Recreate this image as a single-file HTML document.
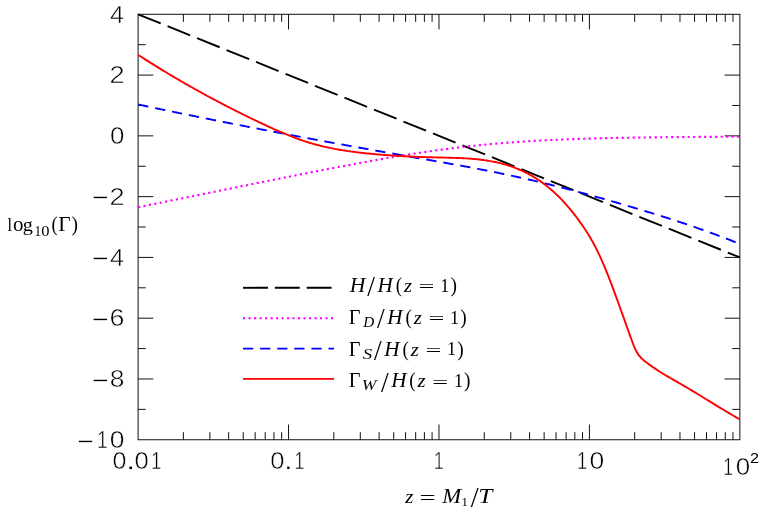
<!DOCTYPE html>
<html><head><meta charset="utf-8"><title>Rates</title>
<style>html,body{margin:0;padding:0;background:#fff;}body{width:763px;height:512px;overflow:hidden;font-family:"Liberation Sans",sans-serif;}svg{display:block;}.s{font-family:"Liberation Sans",sans-serif;fill:#000;}.r{font-family:"Liberation Serif",serif;fill:#000;}.i{font-family:"Liberation Serif",serif;font-style:italic;fill:#000;}</style></head><body>
<svg width="763" height="512" viewBox="0 0 763 512">
<defs><filter id="id" x="0" y="0" width="763" height="512" filterUnits="userSpaceOnUse" color-interpolation-filters="sRGB"><feOffset dx="0" dy="0"/></filter><filter id="bl" x="0" y="0" width="763" height="512" filterUnits="userSpaceOnUse" color-interpolation-filters="sRGB"><feGaussianBlur stdDeviation="0.38"/></filter><filter id="bf" x="0" y="0" width="763" height="512" filterUnits="userSpaceOnUse" color-interpolation-filters="sRGB"><feGaussianBlur stdDeviation="0.6"/></filter></defs>
<rect x="0" y="0" width="763" height="512" fill="#fff"/>
<g filter="url(#bf)" fill="none" stroke="#111" stroke-width="1.0">
<rect x="138.1" y="14.3" width="601.75" height="425.45"/>
<path d="M183.39 439.75 v-7.6M183.39 14.3 v7.6M209.88 439.75 v-7.6M209.88 14.3 v7.6M228.67 439.75 v-7.6M228.67 14.3 v7.6M243.25 439.75 v-7.6M243.25 14.3 v7.6M255.16 439.75 v-7.6M255.16 14.3 v7.6M265.23 439.75 v-7.6M265.23 14.3 v7.6M273.96 439.75 v-7.6M273.96 14.3 v7.6M281.65 439.75 v-7.6M281.65 14.3 v7.6M288.54 439.75 v-15.2M288.54 14.3 v15.2M333.82 439.75 v-7.6M333.82 14.3 v7.6M360.31 439.75 v-7.6M360.31 14.3 v7.6M379.11 439.75 v-7.6M379.11 14.3 v7.6M393.69 439.75 v-7.6M393.69 14.3 v7.6M405.6 439.75 v-7.6M405.6 14.3 v7.6M415.67 439.75 v-7.6M415.67 14.3 v7.6M424.4 439.75 v-7.6M424.4 14.3 v7.6M432.09 439.75 v-7.6M432.09 14.3 v7.6M438.98 439.75 v-15.2M438.98 14.3 v15.2M484.26 439.75 v-7.6M484.26 14.3 v7.6M510.75 439.75 v-7.6M510.75 14.3 v7.6M529.55 439.75 v-7.6M529.55 14.3 v7.6M544.13 439.75 v-7.6M544.13 14.3 v7.6M556.04 439.75 v-7.6M556.04 14.3 v7.6M566.11 439.75 v-7.6M566.11 14.3 v7.6M574.83 439.75 v-7.6M574.83 14.3 v7.6M582.53 439.75 v-7.6M582.53 14.3 v7.6M589.41 439.75 v-15.2M589.41 14.3 v15.2M634.7 439.75 v-7.6M634.7 14.3 v7.6M661.19 439.75 v-7.6M661.19 14.3 v7.6M679.98 439.75 v-7.6M679.98 14.3 v7.6M694.56 439.75 v-7.6M694.56 14.3 v7.6M706.48 439.75 v-7.6M706.48 14.3 v7.6M716.55 439.75 v-7.6M716.55 14.3 v7.6M725.27 439.75 v-7.6M725.27 14.3 v7.6M732.97 439.75 v-7.6M732.97 14.3 v7.6M138.1 44.69 h7.6M739.85 44.69 h-7.6M138.1 75.08 h15.2M739.85 75.08 h-15.2M138.1 105.47 h7.6M739.85 105.47 h-7.6M138.1 135.86 h15.2M739.85 135.86 h-15.2M138.1 166.25 h7.6M739.85 166.25 h-7.6M138.1 196.64 h15.2M739.85 196.64 h-15.2M138.1 227.03 h7.6M739.85 227.03 h-7.6M138.1 257.41 h15.2M739.85 257.41 h-15.2M138.1 287.8 h7.6M739.85 287.8 h-7.6M138.1 318.19 h15.2M739.85 318.19 h-15.2M138.1 348.58 h7.6M739.85 348.58 h-7.6M138.1 378.97 h15.2M739.85 378.97 h-15.2M138.1 409.36 h7.6M739.85 409.36 h-7.6"/>
</g>
<g filter="url(#bl)">
<g fill="none" stroke-linejoin="round">
<path d="M138.1 14.3L739.85 257.41" stroke="#000" stroke-width="1.9" stroke-dasharray="24.35 7.45"/>
<path d="M138.1 207.24L140.11 206.83L142.13 206.42L144.14 206.01L146.15 205.6L148.16 205.19L150.18 204.78L152.19 204.37L154.2 203.96L156.21 203.56L158.23 203.15L160.24 202.74L162.25 202.33L164.26 201.92L166.28 201.51L168.29 201.1L170.3 200.69L172.31 200.28L174.33 199.88L176.34 199.47L178.35 199.06L180.36 198.65L182.38 198.24L184.39 197.83L186.4 197.42L188.41 197.02L190.43 196.61L192.44 196.2L194.45 195.79L196.46 195.38L198.48 194.97L200.49 194.56L202.5 194.16L204.51 193.75L206.53 193.34L208.54 192.93L210.55 192.52L212.56 192.12L214.58 191.71L216.59 191.3L218.6 190.89L220.61 190.48L222.63 190.08L224.64 189.67L226.65 189.26L228.66 188.85L230.68 188.45L232.69 188.04L234.7 187.63L236.71 187.23L238.73 186.82L240.74 186.41L242.75 186.01L244.76 185.6L246.78 185.19L248.79 184.79L250.8 184.38L252.81 183.97L254.83 183.57L256.84 183.16L258.85 182.76L260.87 182.35L262.88 181.95L264.89 181.54L266.9 181.14L268.92 180.73L270.93 180.33L272.94 179.93L274.95 179.52L276.97 179.12L278.98 178.72L280.99 178.31L283 177.91L285.02 177.51L287.03 177.11L289.04 176.71L291.05 176.3L293.07 175.9L295.08 175.5L297.09 175.1L299.1 174.71L301.12 174.31L303.13 173.91L305.14 173.51L307.15 173.11L309.17 172.72L311.18 172.32L313.19 171.93L315.2 171.53L317.22 171.14L319.23 170.74L321.24 170.35L323.25 169.96L325.27 169.57L327.28 169.18L329.29 168.79L331.3 168.4L333.32 168.01L335.33 167.62L337.34 167.24L339.35 166.85L341.37 166.47L343.38 166.08L345.39 165.7L347.4 165.32L349.42 164.94L351.43 164.56L353.44 164.19L355.45 163.81L357.47 163.44L359.48 163.06L361.49 162.69L363.5 162.32L365.52 161.95L367.53 161.59L369.54 161.22L371.55 160.86L373.57 160.5L375.58 160.14L377.59 159.78L379.61 159.42L381.62 159.07L383.63 158.72L385.64 158.37L387.66 158.02L389.67 157.67L391.68 157.33L393.69 156.99L395.71 156.65L397.72 156.31L399.73 155.98L401.74 155.64L403.76 155.31L405.77 154.99L407.78 154.66L409.79 154.34L411.81 154.02L413.82 153.71L415.83 153.39L417.84 153.08L419.86 152.78L421.87 152.47L423.88 152.17L425.89 151.87L427.91 151.58L429.92 151.29L431.93 151L433.94 150.71L435.96 150.43L437.97 150.15L439.98 149.88L441.99 149.6L444.01 149.34L446.02 149.07L448.03 148.81L450.04 148.55L452.06 148.3L454.07 148.04L456.08 147.8L458.09 147.55L460.11 147.31L462.12 147.08L464.13 146.84L466.14 146.61L468.16 146.39L470.17 146.16L472.18 145.95L474.19 145.73L476.21 145.52L478.22 145.31L480.23 145.11L482.24 144.91L484.26 144.71L486.27 144.52L488.28 144.33L490.29 144.14L492.31 143.96L494.32 143.78L496.33 143.6L498.34 143.43L500.36 143.26L502.37 143.09L504.38 142.93L506.4 142.77L508.41 142.62L510.42 142.46L512.43 142.32L514.45 142.17L516.46 142.03L518.47 141.89L520.48 141.75L522.5 141.62L524.51 141.49L526.52 141.36L528.53 141.23L530.55 141.11L532.56 140.99L534.57 140.87L536.58 140.76L538.6 140.65L540.61 140.54L542.62 140.43L544.63 140.33L546.65 140.23L548.66 140.13L550.67 140.04L552.68 139.94L554.7 139.85L556.71 139.76L558.72 139.67L560.73 139.59L562.75 139.51L564.76 139.43L566.77 139.35L568.78 139.27L570.8 139.2L572.81 139.12L574.82 139.05L576.83 138.98L578.85 138.92L580.86 138.85L582.87 138.79L584.88 138.72L586.9 138.66L588.91 138.61L590.92 138.55L592.93 138.49L594.95 138.44L596.96 138.38L598.97 138.33L600.98 138.28L603 138.23L605.01 138.19L607.02 138.14L609.03 138.09L611.05 138.05L613.06 138.01L615.07 137.97L617.08 137.92L619.1 137.89L621.11 137.85L623.12 137.81L625.14 137.77L627.15 137.74L629.16 137.7L631.17 137.67L633.19 137.64L635.2 137.6L637.21 137.57L639.22 137.54L641.24 137.51L643.25 137.49L645.26 137.46L647.27 137.43L649.29 137.4L651.3 137.38L653.31 137.35L655.32 137.33L657.34 137.3L659.35 137.28L661.36 137.26L663.37 137.24L665.39 137.22L667.4 137.19L669.41 137.17L671.42 137.15L673.44 137.14L675.45 137.12L677.46 137.1L679.47 137.08L681.49 137.06L683.5 137.05L685.51 137.03L687.52 137.01L689.54 137L691.55 136.98L693.56 136.97L695.57 136.95L697.59 136.94L699.6 136.92L701.61 136.91L703.62 136.9L705.64 136.88L707.65 136.87L709.66 136.86L711.67 136.85L713.69 136.84L715.7 136.82L717.71 136.81L719.72 136.8L721.74 136.79L723.75 136.78L725.76 136.77L727.77 136.76L729.79 136.75L731.8 136.74L733.81 136.73L735.82 136.72L737.84 136.71L739.85 136.7" stroke="#ff00ff" stroke-width="2.15" stroke-dasharray="2.15 3.35"/>
<path d="M138.25 104.51L140.26 104.93L142.27 105.36L144.29 105.78L146.3 106.21L148.31 106.63L150.32 107.05L152.33 107.48L154.35 107.9L156.36 108.32L158.37 108.74L160.38 109.16L162.39 109.58L164.41 109.99L166.42 110.41L168.43 110.83L170.44 111.24L172.45 111.66L174.47 112.07L176.48 112.49L178.49 112.9L180.5 113.31L182.51 113.73L184.53 114.14L186.54 114.55L188.55 114.96L190.56 115.37L192.58 115.78L194.59 116.18L196.6 116.59L198.61 117L200.62 117.41L202.64 117.81L204.65 118.22L206.66 118.62L208.67 119.02L210.68 119.43L212.7 119.83L214.71 120.23L216.72 120.63L218.73 121.04L220.74 121.44L222.76 121.84L224.77 122.23L226.78 122.63L228.79 123.03L230.8 123.43L232.82 123.82L234.83 124.22L236.84 124.62L238.85 125.01L240.86 125.41L242.88 125.8L244.89 126.19L246.9 126.58L248.91 126.98L250.92 127.37L252.94 127.76L254.95 128.15L256.96 128.54L258.97 128.93L260.98 129.32L263 129.7L265.01 130.09L267.02 130.48L269.03 130.87L271.04 131.25L273.06 131.64L275.07 132.02L277.08 132.4L279.09 132.79L281.1 133.17L283.12 133.55L285.13 133.94L287.14 134.32L289.15 134.7L291.17 135.08L293.18 135.46L295.19 135.84L297.2 136.22L299.21 136.59L301.23 136.97L303.24 137.35L305.25 137.73L307.26 138.1L309.27 138.48L311.29 138.85L313.3 139.23L315.31 139.6L317.32 139.97L319.33 140.35L321.35 140.72L323.36 141.09L325.37 141.46L327.38 141.83L329.39 142.2L331.41 142.57L333.42 142.94L335.43 143.31L337.44 143.68L339.45 144.05L341.47 144.42L343.48 144.78L345.49 145.15L347.5 145.52L349.51 145.88L351.53 146.25L353.54 146.61L355.55 146.97L357.56 147.34L359.57 147.7L361.59 148.06L363.6 148.43L365.61 148.79L367.62 149.15L369.63 149.51L371.65 149.87L373.66 150.23L375.67 150.59L377.68 150.95L379.69 151.31L381.71 151.66L383.72 152.02L385.73 152.38L387.74 152.74L389.76 153.09L391.77 153.45L393.78 153.8L395.79 154.16L397.8 154.51L399.82 154.87L401.83 155.22L403.84 155.57L405.85 155.93L407.86 156.28L409.88 156.63L411.89 156.98L413.9 157.33L415.91 157.69L417.92 158.04L419.94 158.39L421.95 158.74L423.96 159.09L425.97 159.44L427.98 159.8L430 160.15L432.01 160.5L434.02 160.85L436.03 161.21L438.04 161.56L440.06 161.92L442.07 162.28L444.08 162.63L446.09 162.99L448.1 163.35L450.12 163.71L452.13 164.07L454.14 164.44L456.15 164.8L458.16 165.17L460.18 165.54L462.19 165.9L464.2 166.28L466.21 166.65L468.22 167.02L470.24 167.4L472.25 167.78L474.26 168.16L476.27 168.54L478.28 168.92L480.3 169.31L482.31 169.7L484.32 170.09L486.33 170.49L488.34 170.88L490.36 171.28L492.37 171.69L494.38 172.09L496.39 172.5L498.41 172.91L500.42 173.32L502.43 173.74L504.44 174.16L506.45 174.59L508.47 175.01L510.48 175.44L512.49 175.88L514.5 176.31L516.51 176.76L518.53 177.2L520.54 177.65L522.55 178.1L524.56 178.56L526.57 179.02L528.59 179.48L530.6 179.95L532.61 180.42L534.62 180.89L536.63 181.36L538.65 181.84L540.66 182.33L542.67 182.81L544.68 183.3L546.69 183.8L548.71 184.29L550.72 184.79L552.73 185.3L554.74 185.8L556.75 186.31L558.77 186.82L560.78 187.33L562.79 187.85L564.8 188.37L566.81 188.9L568.83 189.42L570.84 189.95L572.85 190.48L574.86 191.01L576.87 191.55L578.89 192.09L580.9 192.63L582.91 193.18L584.92 193.72L586.93 194.27L588.95 194.82L590.96 195.38L592.97 195.93L594.98 196.49L597 197.05L599.01 197.61L601.02 198.18L603.03 198.75L605.04 199.32L607.06 199.89L609.07 200.46L611.08 201.04L613.09 201.61L615.1 202.19L617.12 202.77L619.13 203.36L621.14 203.94L623.15 204.53L625.16 205.12L627.18 205.71L629.19 206.3L631.2 206.89L633.21 207.49L635.22 208.09L637.24 208.69L639.25 209.29L641.26 209.89L643.27 210.5L645.28 211.11L647.3 211.72L649.31 212.33L651.32 212.95L653.33 213.57L655.34 214.2L657.36 214.82L659.37 215.45L661.38 216.08L663.39 216.72L665.4 217.36L667.42 218L669.43 218.64L671.44 219.29L673.45 219.94L675.46 220.6L677.48 221.26L679.49 221.92L681.5 222.59L683.51 223.26L685.52 223.93L687.54 224.61L689.55 225.3L691.56 225.98L693.57 226.68L695.59 227.37L697.6 228.07L699.61 228.78L701.62 229.49L703.63 230.2L705.65 230.92L707.66 231.65L709.67 232.38L711.68 233.11L713.69 233.85L715.71 234.59L717.72 235.34L719.73 236.1L721.74 236.86L723.75 237.62L725.77 238.4L727.78 239.17L729.79 239.96L731.8 240.75L733.81 241.54L735.83 242.34L737.84 243.15L739.85 243.96" stroke="#0000ff" stroke-width="1.9" stroke-dasharray="10.3 6.95"/>
<path d="M138.25 54.98L139.46 55.75L140.66 56.53L141.87 57.3L143.07 58.07L144.28 58.84L145.48 59.61L146.69 60.37L147.89 61.13L149.1 61.89L150.31 62.65L151.51 63.4L152.72 64.16L153.92 64.91L155.13 65.65L156.33 66.4L157.54 67.14L158.75 67.88L159.95 68.62L161.16 69.36L162.36 70.09L163.57 70.82L164.77 71.55L165.98 72.28L167.18 73.01L168.39 73.73L169.6 74.45L170.8 75.17L172.01 75.88L173.21 76.6L174.42 77.31L175.62 78.02L176.83 78.73L178.04 79.43L179.24 80.13L180.45 80.83L181.65 81.53L182.86 82.23L184.06 82.92L185.27 83.62L186.47 84.31L187.68 84.99L188.89 85.68L190.09 86.36L191.3 87.04L192.5 87.72L193.71 88.4L194.91 89.08L196.12 89.75L197.32 90.42L198.53 91.09L199.74 91.76L200.94 92.42L202.15 93.08L203.35 93.75L204.56 94.4L205.76 95.06L206.97 95.72L208.18 96.37L209.38 97.02L210.59 97.67L211.79 98.31L213 98.96L214.2 99.6L215.41 100.24L216.61 100.88L217.82 101.52L219.03 102.15L220.23 102.78L221.44 103.41L222.64 104.04L223.85 104.67L225.05 105.29L226.26 105.92L227.47 106.54L228.67 107.16L229.88 107.77L231.08 108.39L232.29 109L233.49 109.61L234.7 110.22L235.9 110.83L237.11 111.44L238.32 112.04L239.52 112.64L240.73 113.24L241.93 113.84L243.14 114.44L244.34 115.03L245.55 115.63L246.76 116.22L247.96 116.81L249.17 117.4L250.37 117.99L251.58 118.57L252.78 119.16L253.99 119.74L255.19 120.32L256.4 120.9L257.61 121.48L258.81 122.05L260.02 122.63L261.22 123.2L262.43 123.77L263.63 124.34L264.84 124.9L266.04 125.46L267.25 126.02L268.46 126.58L269.66 127.13L270.87 127.69L272.07 128.23L273.28 128.78L274.48 129.32L275.69 129.85L276.9 130.39L278.1 130.91L279.31 131.44L280.51 131.96L281.72 132.47L282.92 132.98L284.13 133.49L285.33 133.99L286.54 134.49L287.75 134.98L288.95 135.46L290.16 135.94L291.36 136.41L292.57 136.88L293.77 137.34L294.98 137.8L296.19 138.25L297.39 138.69L298.6 139.13L299.8 139.55L301.01 139.98L302.21 140.39L303.42 140.8L304.62 141.2L305.83 141.59L307.04 141.98L308.24 142.36L309.45 142.73L310.65 143.09L311.86 143.44L313.06 143.79L314.27 144.13L315.47 144.46L316.68 144.79L317.89 145.11L319.09 145.42L320.3 145.72L321.5 146.02L322.71 146.31L323.91 146.59L325.12 146.87L326.33 147.14L327.53 147.41L328.74 147.67L329.94 147.92L331.15 148.17L332.35 148.41L333.56 148.65L334.76 148.88L335.97 149.1L337.18 149.32L338.38 149.54L339.59 149.75L340.79 149.95L342 150.16L343.2 150.35L344.41 150.54L345.62 150.73L346.82 150.91L348.03 151.09L349.23 151.26L350.44 151.43L351.64 151.6L352.85 151.76L354.05 151.92L355.26 152.07L356.47 152.22L357.67 152.37L358.88 152.52L360.08 152.66L361.29 152.8L362.49 152.93L363.7 153.06L364.9 153.19L366.11 153.32L367.32 153.45L368.52 153.57L369.73 153.69L370.93 153.81L372.14 153.92L373.34 154.04L374.55 154.15L375.76 154.25L376.96 154.36L378.17 154.47L379.37 154.57L380.58 154.67L381.78 154.77L382.99 154.86L384.19 154.95L385.4 155.05L386.61 155.14L387.81 155.22L389.02 155.31L390.22 155.39L391.43 155.48L392.63 155.56L393.84 155.63L395.05 155.71L396.25 155.78L397.46 155.86L398.66 155.93L399.87 156L401.07 156.07L402.28 156.13L403.48 156.2L404.69 156.26L405.9 156.32L407.1 156.38L408.31 156.44L409.51 156.49L410.72 156.55L411.92 156.6L413.13 156.66L414.33 156.71L415.54 156.76L416.75 156.81L417.95 156.85L419.16 156.9L420.36 156.94L421.57 156.99L422.77 157.03L423.98 157.07L425.19 157.11L426.39 157.15L427.6 157.18L428.8 157.22L430.01 157.26L431.21 157.29L432.42 157.32L433.62 157.36L434.83 157.39L436.04 157.42L437.24 157.45L438.45 157.48L439.65 157.51L440.86 157.53L442.06 157.56L443.27 157.59L444.48 157.62L445.68 157.64L446.89 157.67L448.09 157.7L449.3 157.73L450.5 157.77L451.71 157.8L452.91 157.83L454.12 157.87L455.33 157.91L456.53 157.95L457.74 158L458.94 158.05L460.15 158.1L461.35 158.15L462.56 158.21L463.77 158.27L464.97 158.34L466.18 158.41L467.38 158.49L468.59 158.57L469.79 158.65L471 158.74L472.2 158.84L473.41 158.94L474.62 159.05L475.82 159.17L477.03 159.29L478.23 159.41L479.44 159.55L480.64 159.69L481.85 159.84L483.05 160L484.26 160.16L485.47 160.34L486.67 160.52L487.88 160.71L489.08 160.91L490.29 161.11L491.49 161.33L492.7 161.56L493.91 161.8L495.11 162.04L496.32 162.3L497.52 162.57L498.73 162.84L499.93 163.13L501.14 163.43L502.34 163.75L503.55 164.07L504.76 164.41L505.96 164.76L507.17 165.12L508.37 165.49L509.58 165.88L510.78 166.28L511.99 166.7L513.2 167.13L514.4 167.57L515.61 168.03L516.81 168.51L518.02 169L519.22 169.5L520.43 170.02L521.63 170.56L522.84 171.12L524.05 171.69L525.25 172.28L526.46 172.88L527.66 173.51L528.87 174.15L530.07 174.81L531.28 175.49L532.48 176.19L533.69 176.91L534.9 177.64L536.1 178.4L537.31 179.18L538.51 179.98L539.72 180.8L540.92 181.64L542.13 182.5L543.34 183.38L544.54 184.29L545.75 185.21L546.95 186.16L548.16 187.13L549.36 188.13L550.57 189.15L551.77 190.19L552.98 191.26L554.19 192.35L555.39 193.47L556.6 194.61L557.8 195.77L559.01 196.96L560.21 198.18L561.42 199.42L562.63 200.69L563.83 201.99L565.04 203.31L566.24 204.66L567.45 206.04L568.65 207.45L569.86 208.88L571.06 210.34L572.27 211.83L573.48 213.34L574.68 214.88L575.89 216.45L577.09 218.05L578.3 219.67L579.5 221.32L580.71 223L581.91 224.71L583.12 226.46L584.33 228.24L585.53 230.06L586.74 231.93L587.94 233.85L589.15 235.82L590.35 237.84L591.56 239.92L592.77 242.07L593.97 244.27L595.18 246.55L596.38 248.9L597.59 251.32L598.79 253.82L600 256.41L601.2 259.07L602.41 261.81L603.62 264.62L604.82 267.49L606.03 270.43L607.23 273.42L608.44 276.47L609.64 279.57L610.85 282.71L612.06 285.89L613.26 289.11L614.47 292.36L615.67 295.64L616.88 298.94L618.08 302.26L619.29 305.6L620.49 308.95L621.7 312.31L622.91 315.66L624.11 319.02L625.32 322.39L626.52 325.75L627.73 329.11L628.93 332.48L630.14 335.84L631.34 339.2L632.55 342.54L633.76 345.69L634.96 348.5L636.17 350.94L637.37 353.04L638.58 354.85L639.78 356.4L640.99 357.75L642.2 358.93L643.4 359.99L644.61 360.97L645.81 361.92L647.02 362.85L648.22 363.76L649.43 364.65L650.63 365.52L651.84 366.38L653.05 367.22L654.25 368.05L655.46 368.86L656.66 369.66L657.87 370.45L659.07 371.22L660.28 371.99L661.49 372.74L662.69 373.48L663.9 374.22L665.1 374.95L666.31 375.67L667.51 376.38L668.72 377.09L669.92 377.79L671.13 378.49L672.34 379.18L673.54 379.88L674.75 380.57L675.95 381.25L677.16 381.94L678.36 382.63L679.57 383.32L680.78 384.01L681.98 384.71L683.19 385.41L684.39 386.11L685.6 386.81L686.8 387.52L688.01 388.23L689.21 388.95L690.42 389.67L691.63 390.39L692.83 391.11L694.04 391.84L695.24 392.57L696.45 393.3L697.65 394.03L698.86 394.77L700.06 395.5L701.27 396.24L702.48 396.98L703.68 397.72L704.89 398.46L706.09 399.2L707.3 399.94L708.5 400.68L709.71 401.42L710.92 402.17L712.12 402.91L713.33 403.65L714.53 404.39L715.74 405.12L716.94 405.86L718.15 406.6L719.35 407.33L720.56 408.07L721.77 408.8L722.97 409.53L724.18 410.25L725.38 410.98L726.59 411.7L727.79 412.42L729 413.13L730.21 413.84L731.41 414.55L732.62 415.26L733.82 415.96L735.03 416.66L736.23 417.35L737.44 418.04L738.64 418.72L739.85 419.4" stroke="#ff0000" stroke-width="1.9"/>
</g>
<g fill="none">
<path d="M243 287.8 H334" stroke="#000" stroke-width="1.9" stroke-dasharray="24.9 6.95"/>
<path d="M243 318.2 H334" stroke="#ff00ff" stroke-width="2.15" stroke-dasharray="2.15 3.35"/>
<path d="M243 348.6 H334" stroke="#0000ff" stroke-width="1.9" stroke-dasharray="10.2 6.9"/>
<path d="M243 378.9 H334" stroke="#ff0000" stroke-width="1.9"/>
</g>
</g>
<g filter="url(#id)">
<text class="s" transform="translate(110.07 22.56) scale(1.0494 1)" font-size="24.01" stroke="#fff" stroke-width="0.5" paint-order="fill stroke">4</text>
<text class="s" transform="translate(109.59 83.34) scale(1.1325 1)" font-size="24.01" stroke="#fff" stroke-width="0.5" paint-order="fill stroke">2</text>
<text class="s" transform="translate(109.94 144.12) scale(1.0804 1)" font-size="24.01" stroke="#fff" stroke-width="0.5" paint-order="fill stroke">0</text>
<text class="s" transform="translate(92.25 204.49) scale(1.3983 1)" font-size="19.72">−</text>
<text class="s" transform="translate(109.59 204.9) scale(1.1325 1)" font-size="24.01" stroke="#fff" stroke-width="0.5" paint-order="fill stroke">2</text>
<text class="s" transform="translate(92.25 265.27) scale(1.3983 1)" font-size="19.72">−</text>
<text class="s" transform="translate(110.07 265.67) scale(1.0494 1)" font-size="24.01" stroke="#fff" stroke-width="0.5" paint-order="fill stroke">4</text>
<text class="s" transform="translate(92.25 326.05) scale(1.3983 1)" font-size="19.72">−</text>
<text class="s" transform="translate(109.58 326.45) scale(1.1202 1)" font-size="24.01" stroke="#fff" stroke-width="0.5" paint-order="fill stroke">6</text>
<text class="s" transform="translate(92.25 386.83) scale(1.3983 1)" font-size="19.72">−</text>
<text class="s" transform="translate(109.82 387.23) scale(1.0988 1)" font-size="24.01" stroke="#fff" stroke-width="0.5" paint-order="fill stroke">8</text>
<text class="s" transform="translate(77.55 447.61) scale(1.3983 1)" font-size="19.72">−</text>
<text class="s" transform="translate(97.07 448.01) scale(0.8117 1)" font-size="24.01" stroke="#fff" stroke-width="0.5" paint-order="fill stroke">1</text>
<text class="s" transform="translate(109.82 448.01) scale(1.0978 1)" font-size="24.01" stroke="#fff" stroke-width="0.5" paint-order="fill stroke">0</text>
</g>
<g filter="url(#id)">
<text class="s" transform="translate(112.57 469.46) scale(1.0455 1)" font-size="24.01" stroke="#fff" stroke-width="0.5" paint-order="fill stroke">0</text>
<text class="s" transform="translate(126.64 469.4) scale(1.3084 1)" font-size="21.5">.</text>
<text class="s" transform="translate(134.55 469.46) scale(1.0717 1)" font-size="24.01" stroke="#fff" stroke-width="0.5" paint-order="fill stroke">0</text>
<text class="s" transform="translate(151.17 469.46) scale(0.7537 1)" font-size="24.01" stroke="#fff" stroke-width="0.5" paint-order="fill stroke">1</text>
<text class="s" transform="translate(270.35 469.46) scale(1.0630 1)" font-size="24.01" stroke="#fff" stroke-width="0.5" paint-order="fill stroke">0</text>
<text class="s" transform="translate(285.12 469.4) scale(1.1146 1)" font-size="21.5">.</text>
<text class="s" transform="translate(294.51 469.46) scale(0.7344 1)" font-size="24.01" stroke="#fff" stroke-width="0.5" paint-order="fill stroke">1</text>
<text class="s" transform="translate(433.87 469.46) scale(0.7537 1)" font-size="24.01" stroke="#fff" stroke-width="0.5" paint-order="fill stroke">1</text>
<text class="s" transform="translate(576.96 469.46) scale(0.7634 1)" font-size="24.01" stroke="#fff" stroke-width="0.5" paint-order="fill stroke">1</text>
<text class="s" transform="translate(589.61 469.46) scale(1.1065 1)" font-size="24.01" stroke="#fff" stroke-width="0.5" paint-order="fill stroke">0</text>
<text class="s" transform="translate(723.33 474.96) scale(0.7247 1)" font-size="24.01" stroke="#fff" stroke-width="0.5" paint-order="fill stroke">1</text>
<text class="s" transform="translate(735.74 474.96) scale(1.0804 1)" font-size="24.01" stroke="#fff" stroke-width="0.5" paint-order="fill stroke">0</text>
<text class="s" transform="translate(749.99 463) scale(1.0488 1)" font-size="15.47">2</text>
</g>
<g filter="url(#id)">
<text class="r" transform="translate(7.48 231.1) scale(0.8029 1)" font-size="19.88">l</text>
<text class="r" transform="translate(13 231.2) scale(1.0517 1)" font-size="19.96">o</text>
<text class="r" transform="translate(22.83 231.25) scale(1.0581 1)" font-size="19.2">g</text>
<text class="r" transform="translate(34.42 235.8) scale(0.9476 1)" font-size="14.09">1</text>
<text class="r" transform="translate(41.37 235.95) scale(1.1371 1)" font-size="14.52">0</text>
<text class="r" transform="translate(51.38 231.17) scale(0.8599 1)" font-size="21.72">(</text>
<text class="r" transform="translate(58.18 231.1) scale(1.0340 1)" font-size="20.76">Γ</text>
<text class="r" transform="translate(71.38 231.17) scale(0.8957 1)" font-size="21.72">)</text>
</g>
<g filter="url(#id)">
<text class="i" transform="translate(405.13 502.8) scale(1.0979 1)" font-size="19.06">z</text>
<text class="r" transform="translate(419.47 504.37) scale(1.4897 1)" font-size="19.2">=</text>
<text class="i" transform="translate(442.37 502.8) scale(1.0893 1)" font-size="20.92">M</text>
<text class="r" transform="translate(461.48 506.4) scale(0.9588 1)" font-size="13.33">1</text>
<text class="r" transform="translate(470.7 507.11) scale(0.9850 1)" font-size="28.85">/</text>
<text class="i" transform="translate(478.33 502.8) scale(1.2105 1)" font-size="20.92">T</text>
</g>
<g filter="url(#id)">
<text class="i" transform="translate(349.64 291.7) scale(1.0236 1)" font-size="21.22">H</text>
<text class="r" transform="translate(367.3 296.11) scale(0.9551 1)" font-size="29">/</text><text class="i" transform="translate(377.53 291.7) scale(0.9994 1)" font-size="21.22">H</text><text class="r" transform="translate(395.76 291.84) scale(0.8914 1)" font-size="21.39">(</text><text class="i" transform="translate(403.93 291.7) scale(1.0782 1)" font-size="19.17">z</text><text class="r" transform="translate(418.59 292.48) scale(1.6769 1)" font-size="16.8">=</text><text class="r" transform="translate(440.3 291.6) scale(0.9449 1)" font-size="19.24">1</text><text class="r" transform="translate(450.48 291.84) scale(0.9096 1)" font-size="21.39">)</text>
<text class="r" transform="translate(348.81 323.7) scale(0.9710 1)" font-size="20.92">Γ</text>
<text class="i" transform="translate(363.17 326.67) scale(1.0841 1)" font-size="14">D</text>
<text class="r" transform="translate(377.1 328.11) scale(0.9551 1)" font-size="29">/</text><text class="i" transform="translate(387.33 323.7) scale(0.9994 1)" font-size="21.22">H</text><text class="r" transform="translate(405.56 323.84) scale(0.8914 1)" font-size="21.39">(</text><text class="i" transform="translate(413.73 323.7) scale(1.0782 1)" font-size="19.17">z</text><text class="r" transform="translate(428.39 324.48) scale(1.6769 1)" font-size="16.8">=</text><text class="r" transform="translate(450.1 323.6) scale(0.9449 1)" font-size="19.24">1</text><text class="r" transform="translate(460.28 323.84) scale(0.9096 1)" font-size="21.39">)</text>
<text class="r" transform="translate(348.81 355.5) scale(0.9710 1)" font-size="20.92">Γ</text>
<text class="i" transform="translate(362.67 358.75) scale(1.2930 1)" font-size="14.58">S</text>
<text class="r" transform="translate(374.1 359.91) scale(0.9551 1)" font-size="29">/</text><text class="i" transform="translate(384.33 355.5) scale(0.9994 1)" font-size="21.22">H</text><text class="r" transform="translate(402.56 355.64) scale(0.8914 1)" font-size="21.39">(</text><text class="i" transform="translate(410.73 355.5) scale(1.0782 1)" font-size="19.17">z</text><text class="r" transform="translate(425.39 356.28) scale(1.6769 1)" font-size="16.8">=</text><text class="r" transform="translate(447.1 355.4) scale(0.9449 1)" font-size="19.24">1</text><text class="r" transform="translate(457.28 355.64) scale(0.9096 1)" font-size="21.39">)</text>
<text class="r" transform="translate(348.81 387.3) scale(0.9710 1)" font-size="20.92">Γ</text>
<text class="i" transform="translate(361.73 390.29) scale(1.2336 1)" font-size="14.33">W</text>
<text class="r" transform="translate(380.9 391.71) scale(0.9551 1)" font-size="29">/</text><text class="i" transform="translate(391.13 387.3) scale(0.9994 1)" font-size="21.22">H</text><text class="r" transform="translate(409.36 387.44) scale(0.8914 1)" font-size="21.39">(</text><text class="i" transform="translate(417.53 387.3) scale(1.0782 1)" font-size="19.17">z</text><text class="r" transform="translate(432.19 388.08) scale(1.6769 1)" font-size="16.8">=</text><text class="r" transform="translate(453.9 387.2) scale(0.9449 1)" font-size="19.24">1</text><text class="r" transform="translate(464.08 387.44) scale(0.9096 1)" font-size="21.39">)</text>
</g>
</svg></body></html>
